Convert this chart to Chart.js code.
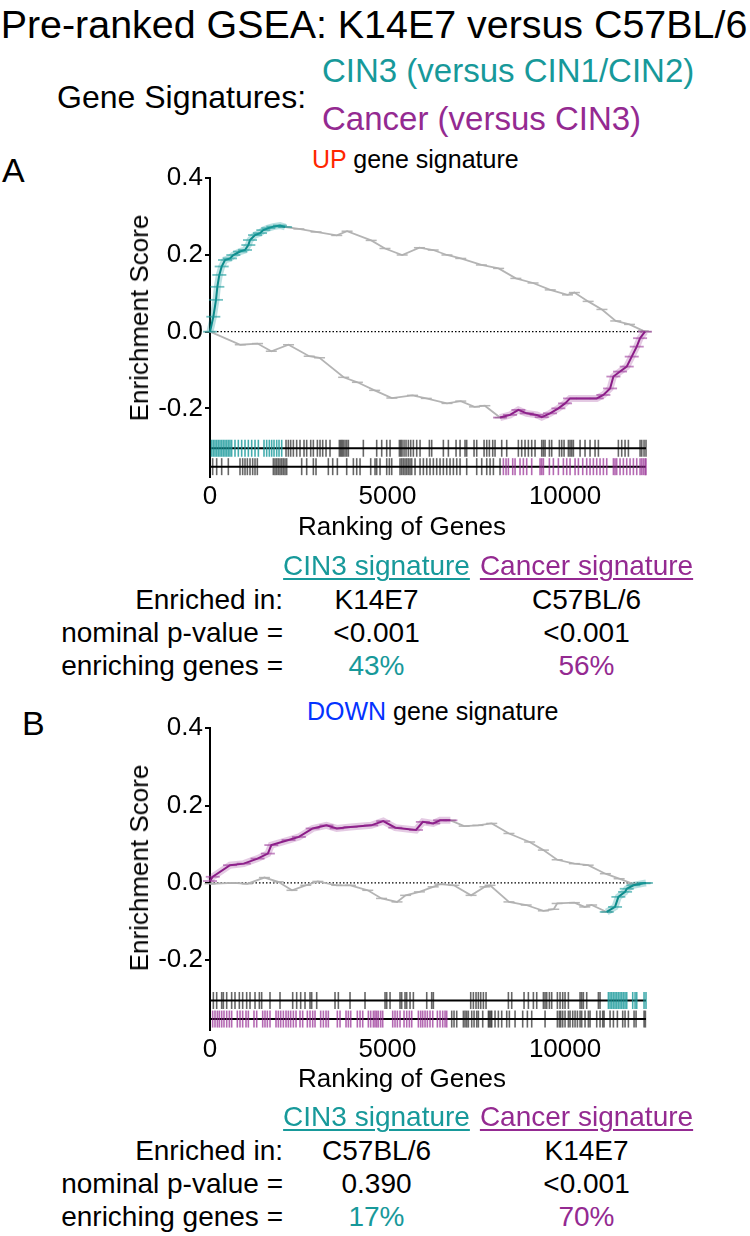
<!DOCTYPE html>
<html>
<head>
<meta charset="utf-8">
<script src="https://cdn.jsdelivr.net/npm/chart.js@4.4.1/dist/chart.umd.min.js"></script>
<style>
  body { margin: 0; background: #fff; }
  #page { position: relative; width: 750px; height: 1236px; overflow: hidden;
          font-family: "Liberation Sans", Arial, sans-serif; color: #000; }
  .t { position: absolute; white-space: nowrap; line-height: 1; }
  .c { transform: translateX(-50%); }
  .rot { transform: translate(-50%, -50%) rotate(-90deg); }
  .teal { color: #17999a; }
  .purple { color: #942a91; }
  .u { text-decoration: underline; text-decoration-thickness: 1.5px; text-underline-offset: 3px; }
  canvas { position: absolute; left: 0; }
</style>
</head>
<body>
<div id="page">
  <div class="t c" style="left:374px; top:4.6px; font-size:39.4px;">Pre-ranked GSEA: K14E7 versus C57BL/6</div>
  <div class="t" style="left:57px; top:80.9px; font-size:32px;">Gene Signatures:</div>
  <div class="t teal" style="left:322px; top:54.1px; font-size:33px;">CIN3 (versus CIN1/CIN2)</div>
  <div class="t purple" style="left:322px; top:102.1px; font-size:33px;">Cancer (versus CIN3)</div>

  <!-- panel A -->
  <div class="t" style="left:2px; top:153.2px; font-size:34px;">A</div>
  <div class="t" style="left:312px; top:146.8px; font-size:25px;"><span style="color:#ff2600">UP</span> gene signature</div>
  <canvas id="chartA" width="750" height="400" style="top:150px"></canvas>
  <div class="t rot" style="left:139px; top:317.5px; font-size:26px;">Enrichment Score</div>
  <div class="t c" style="left:402px; top:513px; font-size:26px;">Ranking of Genes</div>
  <div class="t c teal u" style="left:376.5px; top:552.3px; font-size:28px;">CIN3 signature</div>
  <div class="t c purple u" style="left:586.5px; top:552.3px; font-size:28px;">Cancer signature</div>
  <div class="t" style="right:467px; top:586.3px; font-size:28px;">Enriched in:</div>
  <div class="t" style="right:467px; top:619.3px; font-size:28px;">nominal p-value =</div>
  <div class="t" style="right:467px; top:652.3px; font-size:28px;">enriching genes =</div>
  <div class="t c" style="left:376.5px; top:586.3px; font-size:28px;">K14E7</div>
  <div class="t c" style="left:586.5px; top:586.3px; font-size:28px;">C57BL/6</div>
  <div class="t c" style="left:376.5px; top:619.3px; font-size:28px;">&lt;0.001</div>
  <div class="t c" style="left:586.5px; top:619.3px; font-size:28px;">&lt;0.001</div>
  <div class="t c teal" style="left:376.5px; top:652.3px; font-size:28px;">43%</div>
  <div class="t c purple" style="left:586.5px; top:652.3px; font-size:28px;">56%</div>

  <!-- panel B -->
  <div class="t" style="left:22px; top:706.2px; font-size:34px;">B</div>
  <div class="t" style="left:307px; top:698.8px; font-size:25px;"><span style="color:#0433ff">DOWN</span> gene signature</div>
  <canvas id="chartB" width="750" height="400" style="top:700px"></canvas>
  <div class="t rot" style="left:139px; top:867.5px; font-size:26px;">Enrichment Score</div>
  <div class="t c" style="left:402px; top:1065px; font-size:26px;">Ranking of Genes</div>
  <div class="t c teal u" style="left:376.5px; top:1103.3px; font-size:28px;">CIN3 signature</div>
  <div class="t c purple u" style="left:586.5px; top:1103.3px; font-size:28px;">Cancer signature</div>
  <div class="t" style="right:467px; top:1137.3px; font-size:28px;">Enriched in:</div>
  <div class="t" style="right:467px; top:1170.3px; font-size:28px;">nominal p-value =</div>
  <div class="t" style="right:467px; top:1203.3px; font-size:28px;">enriching genes =</div>
  <div class="t c" style="left:376.5px; top:1137.3px; font-size:28px;">C57BL/6</div>
  <div class="t c" style="left:586.5px; top:1137.3px; font-size:28px;">K14E7</div>
  <div class="t c" style="left:376.5px; top:1170.3px; font-size:28px;">0.390</div>
  <div class="t c" style="left:586.5px; top:1170.3px; font-size:28px;">&lt;0.001</div>
  <div class="t c teal" style="left:376.5px; top:1203.3px; font-size:28px;">17%</div>
  <div class="t c purple" style="left:586.5px; top:1203.3px; font-size:28px;">70%</div>
</div>

<script>
// ranked list size and axis ticks
const totalGenes = 12280;
const xTicks = [0, 5000, 10000];
const yTicks = [-0.2, 0, 0.2, 0.4];

// ---- panel A: UP gene signature ----
// CIN3 signature running ES (leading edge teal, rest grey)
const aCin3LeadGenes = [0, 94, 169, 207, 263, 329, 423, 563, 657, 845, 986, 1080, 1127, 1268, 1408, 1502, 1643, 1784, 1972, 2115];
const aCin3LeadES = [0, 0.039, 0.083, 0.117, 0.148, 0.17, 0.187, 0.191, 0.2, 0.209, 0.213, 0.226, 0.239, 0.252, 0.257, 0.265, 0.27, 0.274, 0.277, 0.273];
const aCin3RestGenes = [2115, 2503, 2988, 3570, 3861, 4540, 4928, 5413, 5898, 6286, 6674, 7062, 7644, 8129, 8614, 9099, 9584, 10069, 10263, 10651, 11039, 11427, 11815, 12203, 12280];
const aCin3RestES = [0.273, 0.268, 0.26, 0.251, 0.262, 0.238, 0.217, 0.2, 0.219, 0.213, 0.2, 0.191, 0.174, 0.165, 0.139, 0.127, 0.109, 0.096, 0.102, 0.079, 0.058, 0.028, 0.019, 0.002, 0];
// Cancer signature running ES (rest grey, leading edge purple)
const aCancerRestGenes = [0, 854, 1339, 1727, 2212, 2794, 3085, 3764, 4152, 4637, 5122, 5704, 6092, 6674, 7062, 7450, 7741, 8169];
const aCancerRestES = [0, -0.034, -0.031, -0.051, -0.034, -0.064, -0.068, -0.119, -0.132, -0.153, -0.173, -0.166, -0.174, -0.187, -0.181, -0.196, -0.193, -0.224];
const aCancerLeadGenes = [8169, 8451, 8685, 8920, 9202, 9343, 9577, 9812, 10000, 10141, 10516, 10892, 11080, 11268, 11362, 11549, 11737, 11878, 12019, 12113, 12250];
const aCancerLeadES = [-0.224, -0.217, -0.204, -0.213, -0.217, -0.223, -0.213, -0.2, -0.187, -0.174, -0.174, -0.174, -0.165, -0.148, -0.117, -0.104, -0.091, -0.065, -0.039, -0.017, 0];
// hit positions (gene ranks)
const aCin3HitsLead = [47, 94, 141, 188, 235, 282, 329, 376, 423, 470, 517, 563, 610, 704, 798, 892, 986, 1080, 1174, 1268, 1362, 1521, 1596, 1671, 1737, 1803, 1878, 1944, 2019];
const aCin3HitsRest = [2141, 2207, 2272, 2348, 2441, 2535, 2648, 2723, 2836, 2911, 3024, 3099, 3174, 3268, 3380, 3643, 3681, 3718, 3756, 3803, 3850, 3897, 4319, 4695, 4836, 4977, 5071, 5334, 5371, 5409, 5465, 5521, 5587, 5653, 5728, 5822, 5916, 6179, 6244, 6573, 6714, 6930, 7043, 7183, 7230, 7437, 7512, 7719, 7794, 7869, 7963, 8028, 8216, 8357, 8685, 8779, 8873, 8967, 9061, 9155, 9343, 9390, 9437, 9559, 9624, 9840, 9906, 9972, 10094, 10141, 10188, 10235, 10423, 10563, 10704, 10845, 10939, 11502, 11596, 11690, 11784, 12113, 12160, 12225, 12280];
const aCancerHitsRest = [75, 188, 329, 516, 845, 920, 986, 1052, 1127, 1202, 1268, 1333, 1784, 1831, 1878, 1925, 1972, 2019, 2066, 2113, 2160, 2582, 2723, 2911, 2986, 3333, 3456, 3587, 3850, 4038, 4132, 4226, 4526, 4648, 4695, 4789, 4977, 5052, 5118, 5352, 5399, 5446, 5493, 5540, 5587, 5634, 5681, 5775, 5916, 6010, 6104, 6197, 6291, 6385, 6479, 6573, 6667, 6761, 6855, 6949, 7043, 7230, 7512, 7653, 7794, 7888, 7982, 8169];
const aCancerHitsLead = [8263, 8338, 8404, 8526, 8592, 8732, 8826, 8920, 9061, 9296, 9343, 9390, 9559, 9671, 9812, 9953, 10047, 10141, 10282, 10376, 10498, 10610, 10704, 10798, 10892, 10986, 11080, 11174, 11362, 11408, 11455, 11549, 11643, 11737, 11831, 11925, 12019, 12113, 12160, 12207, 12254, 12280];

// ---- panel B: DOWN gene signature ----
const bCancerLeadGenes = [0, 78, 563, 951, 1339, 1630, 1727, 2212, 2503, 2891, 3279, 3570, 3958, 4540, 4879, 5219, 5801, 5995, 6286, 6480, 6771];
const bCancerLeadES = [0.005, 0.016, 0.046, 0.05, 0.063, 0.076, 0.098, 0.111, 0.119, 0.141, 0.149, 0.141, 0.145, 0.149, 0.16, 0.143, 0.137, 0.158, 0.154, 0.162, 0.162];
const bCancerRestGenes = [6771, 7159, 7547, 7935, 8420, 9002, 9390, 9778, 10263, 10651, 11136, 11524, 11912, 12280];
const bCancerRestES = [0.162, 0.147, 0.149, 0.154, 0.128, 0.106, 0.085, 0.06, 0.05, 0.046, 0.024, 0.011, -0.002, 0];
const bCin3RestGenes = [0, 660, 1048, 1533, 1921, 2309, 2697, 3036, 3570, 3958, 4443, 4831, 5267, 5510, 5898, 6286, 6480, 6868, 7353, 7741, 7887, 8420, 8905, 9390, 9681, 9778, 10263, 10554, 10748, 11174];
const bCin3RestES = [-0.002, 0, -0.002, 0.014, 0.003, -0.019, -0.006, 0.004, -0.006, -0.006, -0.019, -0.04, -0.049, -0.032, -0.023, -0.01, -0.003, -0.006, -0.032, -0.01, -0.006, -0.049, -0.057, -0.072, -0.068, -0.053, -0.051, -0.062, -0.057, -0.075];
const bCin3LeadGenes = [11174, 11408, 11502, 11690, 11737, 11925, 12207, 12280];
const bCin3LeadES = [-0.075, -0.062, -0.036, -0.023, -0.015, -0.006, -0.001, 0];
const bCin3HitsRest = [94, 188, 329, 376, 470, 610, 704, 826, 920, 1033, 1127, 1268, 1390, 1455, 1690, 1972, 2329, 2441, 2554, 2676, 2817, 2864, 3005, 3521, 3615, 3944, 4366, 4930, 4977, 5071, 5352, 5399, 5493, 5540, 5634, 5728, 6104, 6244, 6291, 7343, 7418, 7493, 7559, 7625, 7700, 7775, 8404, 8498, 8845, 8967, 9108, 9202, 9390, 9437, 9484, 9559, 9624, 9784, 9859, 9934, 10000, 10094, 10423, 10469, 10516, 10610, 10939, 10986];
const bCin3HitsLead = [11221, 11268, 11315, 11362, 11408, 11455, 11502, 11549, 11596, 11643, 11690, 11737, 11906, 11972, 12019, 12225, 12280];
const bCancerHitsLead = [75, 141, 207, 263, 329, 394, 470, 545, 610, 770, 845, 920, 1014, 1080, 1239, 1315, 1484, 1549, 1615, 1690, 1859, 1925, 1991, 2066, 2141, 2207, 2272, 2348, 2423, 2535, 2610, 2742, 2817, 2892, 2958, 3117, 3193, 3268, 3333, 3587, 3662, 3831, 3897, 3963, 4150, 4226, 4301, 4460, 4526, 4601, 4648, 4695, 4742, 4808, 4864, 5146, 5211, 5277, 5352, 5465, 5540, 5615, 5681, 5869, 5934, 5991, 6057, 6122, 6197, 6273, 6404, 6479, 6554, 6620, 6667];
const bCancerHitsRest = [6808, 6873, 6949, 7136, 7183, 7230, 7277, 7371, 7437, 7512, 7559, 7681, 7841, 7869, 7906, 7935, 8028, 8122, 8216, 8357, 8432, 8592, 8807, 8939, 9061, 9437, 9784, 9840, 9878, 9934, 10000, 10094, 10141, 10216, 10282, 10348, 10423, 10469, 10563, 10657, 10704, 10892, 10986, 11061, 11099, 11268, 11362, 11474, 11624, 11690, 11784, 11944, 12000, 12225, 12263];

const FONT = '"Liberation Sans", Arial, sans-serif';
const TEAL_DARK = '#0c8a8a', TEAL_LIGHT = 'rgba(23,153,154,0.6)', TEAL_BAND = 'rgba(23,153,154,0.3)';
const PURPLE_DARK = '#8a1c87', PURPLE_LIGHT = 'rgba(148,42,145,0.55)', PURPLE_BAND = 'rgba(148,42,145,0.25)';
const GREY = '#b4b4b4', GREY_CAP = 'rgba(175,175,175,0.9)';
const RUG_GREY = 'rgba(0,0,0,0.6)', RUG_TEAL = 'rgba(23,153,154,0.8)', RUG_PURPLE = 'rgba(148,42,145,0.7)';
const RUG_ROW1 = -0.304, RUG_ROW2 = -0.352;

function pts(xs, ys) { return xs.map((x, i) => ({ x: x, y: ys[i] })); }
function row(xs, y) { return xs.map(x => ({ x: x, y: y })); }

function leadSets(xs, ys, dark, light, band) {
  return [
    { data: pts(xs, ys), borderColor: dark, borderWidth: 2, pointStyle: 'line',
      pointRadius: 7, pointBorderColor: light, pointBorderWidth: 1.8, clip: false },
    { data: pts(xs, ys), borderColor: band, borderWidth: 7, pointRadius: 0, clip: false }
  ];
}
function greySet(xs, ys) {
  return { data: pts(xs, ys), borderColor: GREY, borderWidth: 1.8, pointStyle: 'line',
    pointRadius: 5.5, pointBorderColor: GREY_CAP, pointBorderWidth: 1.5, clip: false };
}
function rugSet(xs, y, color) {
  return { data: row(xs, y), showLine: false, pointStyle: 'line', rotation: 90,
    pointRadius: 8.5, pointBorderWidth: 1.6, pointBorderColor: color, borderColor: color, clip: false };
}
function hline(y, opts) {
  return Object.assign({ data: [{ x: 0, y: y }, { x: totalGenes, y: y }], pointRadius: 0,
    borderColor: '#000', borderWidth: 2, clip: false }, opts || {});
}

function makeChart(id, datasets, padTop, xAxisHeight) {
  return new Chart(document.getElementById(id), {
    type: 'line',
    data: { datasets: datasets },
    options: {
      responsive: false, animation: false, events: [],
      layout: { padding: { top: padTop, right: 104, left: 0, bottom: 0 } },
      elements: { line: { tension: 0, fill: false } },
      plugins: { legend: { display: false }, tooltip: { enabled: false } },
      scales: {
        x: {
          type: 'linear', min: 0, max: totalGenes,
          afterBuildTicks: s => { s.ticks = xTicks.map(v => ({ value: v })); },
          afterFit: s => { s.height = xAxisHeight; },
          grid: { display: false, drawTicks: false },
          border: { display: false },
          ticks: { color: '#000', font: { family: FONT, size: 26 }, padding: 4,
                   maxRotation: 0, autoSkip: false, callback: v => String(v) }
        },
        y: {
          type: 'linear', min: -0.38, max: 0.4,
          afterBuildTicks: s => { s.ticks = yTicks.map(v => ({ value: v })); },
          afterFit: s => { s.width = 210; },
          grid: { display: true, drawOnChartArea: false, drawTicks: true, tickLength: 5,
                  color: '#000', lineWidth: 2 },
          border: { display: true, color: '#000', width: 2 },
          ticks: { color: '#000', font: { family: FONT, size: 26 }, padding: 2,
                   callback: v => v.toFixed(1) }
        }
      }
    }
  });
}

makeChart('chartA', [
  ...leadSets(aCin3LeadGenes, aCin3LeadES, TEAL_DARK, TEAL_LIGHT, TEAL_BAND),
  ...leadSets(aCancerLeadGenes, aCancerLeadES, PURPLE_DARK, PURPLE_LIGHT, PURPLE_BAND),
  greySet(aCin3RestGenes, aCin3RestES),
  greySet(aCancerRestGenes, aCancerRestES),
  rugSet(aCin3HitsLead, RUG_ROW1, RUG_TEAL),
  rugSet(aCin3HitsRest, RUG_ROW1, RUG_GREY),
  rugSet(aCancerHitsRest, RUG_ROW2, RUG_GREY),
  rugSet(aCancerHitsLead, RUG_ROW2, RUG_PURPLE),
  hline(RUG_ROW1),
  hline(RUG_ROW2),
  hline(0, { borderWidth: 1.2, borderDash: [1.5, 2] })
], 28.3, 72.6);

makeChart('chartB', [
  ...leadSets(bCancerLeadGenes, bCancerLeadES, PURPLE_DARK, PURPLE_LIGHT, PURPLE_BAND),
  ...leadSets(bCin3LeadGenes, bCin3LeadES, TEAL_DARK, TEAL_LIGHT, TEAL_BAND),
  greySet(bCancerRestGenes, bCancerRestES),
  greySet(bCin3RestGenes, bCin3RestES),
  rugSet(bCin3HitsRest, RUG_ROW1, RUG_GREY),
  rugSet(bCin3HitsLead, RUG_ROW1, RUG_TEAL),
  rugSet(bCancerHitsLead, RUG_ROW2, RUG_PURPLE),
  rugSet(bCancerHitsRest, RUG_ROW2, RUG_GREY),
  hline(RUG_ROW1),
  hline(RUG_ROW2),
  hline(0, { borderWidth: 1.2, borderDash: [1.5, 2] })
], 28.3, 70.1);
</script>
</body>
</html>
